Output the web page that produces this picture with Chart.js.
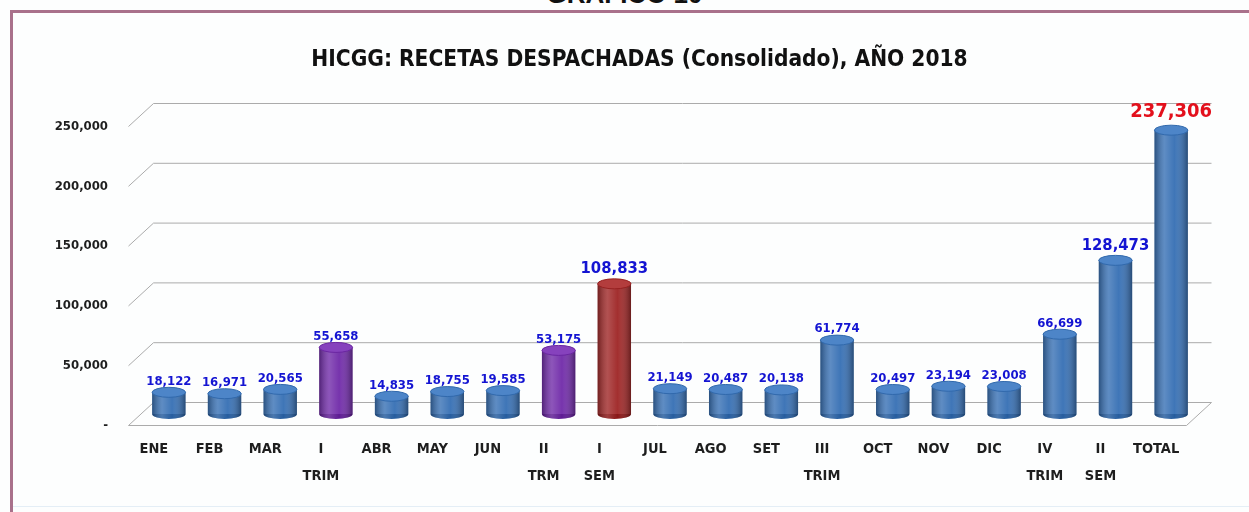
<!DOCTYPE html>
<html>
<head>
<meta charset="utf-8">
<script src="https://cdn.jsdelivr.net/npm/chart.js@4.4.1/dist/chart.umd.min.js"></script>
<style>
  html, body { margin: 0; padding: 0; background: #fff; overflow: hidden; }
  #wrap { position: relative; width: 1249px; height: 512px; background: #fdfefe; }
  #heading { position: absolute; left: 0; width: 1249px; top: -19px; text-align: center;
    font: bold 26px "Liberation Sans", Arial, sans-serif; color: #111; line-height: 26px; }
  #frame { position: absolute; left: 10px; top: 10px; right: 0; bottom: 0;
    border-top: 3px solid #a9718b; border-left: 3px solid #a9718b; pointer-events: none; }
  #bottomLine { position: absolute; left: 13px; right: 0; top: 506px; height: 1px; background: #e4eef6; }
  canvas { position: absolute; left: 0; top: 0; }
</style>
</head>
<body>
<div id="wrap">
  <div id="heading">GRAFICO 10</div>
  <canvas id="graphCanvas" width="1249" height="512"></canvas>
  <div id="frame"></div>
  <div id="bottomLine"></div>
</div>
<script>
const categories = [
  ["ENE"], ["FEB"], ["MAR"], ["I", "TRIM"], ["ABR"], ["MAY"], ["JUN"], ["II", "TRM"], ["I", "SEM"],
  ["JUL"], ["AGO"], ["SET"], ["III", "TRIM"], ["OCT"], ["NOV"], ["DIC"], ["IV", "TRIM"], ["II", "SEM"], ["TOTAL"]
];
const recetas = [18122, 16971, 20565, 55658, 14835, 18755, 19585, 53175, 108833,
  21149, 20487, 20138, 61774, 20497, 23194, 23008, 66699, 128473, 237306];
const yTicks = [0, 50000, 100000, 150000, 200000, 250000];

const BLUE = "#3b73b6", PURPLE = "#7430ab", RED = "#a12b2b";
const barColors = recetas.map((v, i) => {
  if (i === 3 || i === 7) return PURPLE;
  if (i === 8) return RED;
  return BLUE;
});

const NARROW = "'Liberation Sans Narrow', 'DejaVu Sans Condensed', 'Arial Narrow', sans-serif";
const DX = 12.5, DY = 11.5; // half depth of the 3d box

function shade(hex, amt) {
  const n = parseInt(hex.slice(1), 16);
  let r = (n >> 16) + amt, g = ((n >> 8) & 255) + amt, b = (n & 255) + amt;
  r = Math.max(0, Math.min(255, r)); g = Math.max(0, Math.min(255, g)); b = Math.max(0, Math.min(255, b));
  return `rgb(${r},${g},${b})`;
}

// back walls, slanted lines and floor
const boxGrid = {
  id: "boxGrid",
  beforeDatasetsDraw(chart) {
    const { ctx, chartArea: a, scales: { y } } = chart;
    ctx.save();
    ctx.strokeStyle = "#ababab";
    ctx.lineWidth = 1;
    yTicks.forEach(v => {
      const py = y.getPixelForValue(v);
      ctx.beginPath();
      ctx.moveTo(a.left - DX, py + DY);
      ctx.lineTo(a.left + DX, py - DY);
      ctx.lineTo(a.right + DX, py - DY);
      if (v === 0) {
        ctx.lineTo(a.right - DX, py + DY);
        ctx.lineTo(a.left - DX, py + DY);
      }
      ctx.stroke();
    });
    ctx.restore();
  }
};

// cylinder look + value labels
const cylinders = {
  id: "cylinders",
  afterDatasetsDraw(chart) {
    const ctx = chart.ctx;
    const meta = chart.getDatasetMeta(0);
    meta.data.forEach((bar, i) => {
      const { x, y, base, width } = bar.getProps(["x", "y", "base", "width"], true);
      const rx = width / 2, ry = 5, col = barColors[i];
      ctx.save();
      // bottom rounding
      ctx.fillStyle = shade(col, -25);
      ctx.beginPath();
      ctx.ellipse(x, base, rx, ry, 0, 0, Math.PI);
      ctx.fill();
      // side shading
      const g = ctx.createLinearGradient(x - rx, 0, x + rx, 0);
      g.addColorStop(0, "rgba(0,0,0,0.30)");
      g.addColorStop(0.3, "rgba(255,255,255,0.18)");
      g.addColorStop(0.6, "rgba(255,255,255,0.02)");
      g.addColorStop(1, "rgba(0,0,0,0.35)");
      ctx.fillStyle = g;
      ctx.fillRect(x - rx, y, width, base - y);
      ctx.beginPath();
      ctx.ellipse(x, base, rx, ry, 0, 0, Math.PI);
      ctx.fill();
      // top
      ctx.fillStyle = shade(col, 18);
      ctx.beginPath();
      ctx.ellipse(x, y, rx, ry, 0, 0, Math.PI * 2);
      ctx.fill();
      ctx.strokeStyle = shade(col, -10);
      ctx.stroke();

      // value label
      const v = recetas[i];
      let size = 13, color = "#1414d2", lift = 11;
      if (v > 100000) { size = 16.5; lift = 15; }
      if (i === recetas.length - 1) { size = 20; color = "#e3101c"; lift = 18; }
      ctx.font = `bold ${size}px ${NARROW}`;
      ctx.fillStyle = color;
      ctx.textAlign = "center";
      ctx.textBaseline = "middle";
      ctx.fillText(v.toLocaleString("en-US"), x, y - lift);
      ctx.restore();
    });
  }
};

const chart = new Chart(document.getElementById("graphCanvas").getContext("2d"), {
  type: "bar",
  data: {
    labels: categories,
    datasets: [{
      data: recetas,
      backgroundColor: barColors,
      borderWidth: 0,
      barPercentage: 0.6,
      categoryPercentage: 1
    }]
  },
  options: {
    responsive: false,
    animation: false,
    layout: { padding: { left: 30, right: 0, top: 0, bottom: 0 } },
    plugins: {
      legend: { display: false },
      tooltip: { enabled: false },
      title: {
        display: true,
        text: "HICGG: RECETAS DESPACHADAS (Consolidado), AÑO 2018",
        color: "#111",
        font: { family: NARROW, size: 22.5, weight: "bold" },
        padding: { top: 47, bottom: 41 }
      }
    },
    scales: {
      x: {
        grid: { display: false, drawTicks: false },
        border: { display: false },
        ticks: {
          color: "#1e1e1e",
          font: { family: NARROW, size: 14.5, weight: "bold", lineHeight: 1.85 },
          padding: 22,
          labelOffset: -15,
          maxRotation: 0,
          autoSkip: false
        },
        afterFit: s => { s.height = 98; }
      },
      y: {
        min: 0,
        max: 250000,
        afterBuildTicks: s => { s.ticks = yTicks.map(v => ({ value: v })); },
        grid: { display: false, drawTicks: false },
        border: { display: false },
        ticks: {
          color: "#1e1e1e",
          font: { family: NARROW, size: 13, weight: "bold" },
          padding: 33,
          labelOffset: DY,
          callback: v => v === 0 ? "-" : v.toLocaleString("en-US")
        },
        afterFit: s => { s.width = 111; }
      },
      yRight: {
        position: "right",
        display: true,
        grid: { display: false, drawTicks: false },
        border: { display: false },
        ticks: { display: false },
        afterFit: s => { s.width = 50; }
      }
    }
  },
  plugins: [boxGrid, cylinders]
});
</script>
</body>
</html>
